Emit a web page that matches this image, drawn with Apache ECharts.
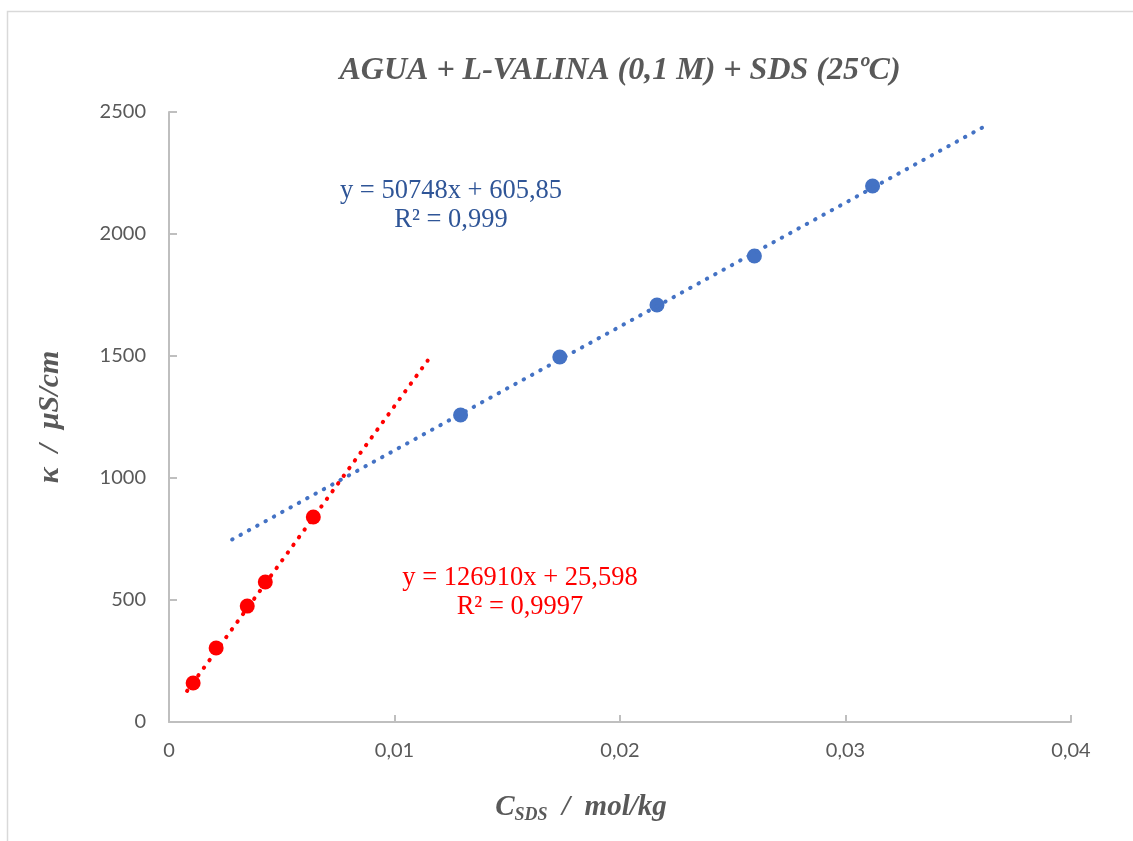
<!DOCTYPE html>
<html>
<head>
<meta charset="utf-8">
<script src="https://cdn.jsdelivr.net/npm/echarts@6/dist/echarts.min.js"></script>
<style>
  html, body { margin: 0; padding: 0; background: #fff; }
  #chart { width: 1133px; height: 841px; }
</style>
</head>
<body>
<div id="chart"></div>
<script>
// premicelar (red) and postmicelar (blue) points
var redX = [0.00107, 0.00209, 0.00347, 0.00427, 0.0064];
var redY = [160, 303, 475, 574, 840];
var blueX = [0.01293, 0.01733, 0.02164, 0.02596, 0.0312];
var blueY = [1258, 1496, 1709, 1910, 2197];

// linear trendlines: slope, intercept, x range
var redFit = { slope: 126910, intercept: 25.598, from: 0.0008, to: 0.01147 };
var blueFit = { slope: 50748, intercept: 605.85, from: 0.0028, to: 0.03631 };

var xTicks = [0, 0.01, 0.02, 0.03, 0.04];
var yTicks = [0, 500, 1000, 1500, 2000, 2500];

function pairs(xs, ys) {
  var out = [];
  for (var i = 0; i < xs.length; i++) out.push([xs[i], ys[i]]);
  return out;
}
function fitLine(f) {
  return [[f.from, f.slope * f.from + f.intercept], [f.to, f.slope * f.to + f.intercept]];
}

var gray = '#595959';
var axisColor = '#bfbfbf';
var serif = '"Liberation Serif", "DejaVu Serif", serif';

var myChart = echarts.init(document.getElementById('chart'));
myChart.setOption({
  animation: false,
  backgroundColor: '#fff',
  title: {
    text: 'AGUA + L-VALINA (0,1 M) + SDS (25ºC)',
    left: 615,
    textAlign: 'center',
    top: 50,
    textStyle: { fontFamily: serif, fontStyle: 'italic', fontWeight: 'bold', fontSize: 32, color: gray }
  },
  grid: { left: 169, right: 62, top: 112, bottom: 119 },
  xAxis: {
    type: 'value',
    min: xTicks[0],
    max: xTicks[xTicks.length - 1],
    interval: 0.01,
    splitLine: { show: false },
    axisLine: { lineStyle: { color: axisColor, width: 2 } },
    axisTick: { inside: true, length: 7, lineStyle: { color: axisColor, width: 2 } },
    axisLabel: {
      margin: 19, color: gray, fontSize: 20, fontFamily: 'Lato, sans-serif',
      formatter: function (v) { return String(v).replace('.', ','); }
    }
  },
  yAxis: {
    type: 'value',
    min: yTicks[0],
    max: yTicks[yTicks.length - 1],
    interval: 500,
    splitLine: { show: false },
    axisLine: { show: true, lineStyle: { color: axisColor, width: 2 } },
    axisTick: { show: true, inside: true, length: 8, lineStyle: { color: axisColor, width: 2 } },
    axisLabel: { margin: 23, color: gray, fontSize: 20, fontFamily: 'Lato, sans-serif',
      formatter: function (v) { return String(v); } },
    name: 'κ  /  μS/cm',
    nameLocation: 'middle',
    nameGap: 104,
    nameTextStyle: { fontFamily: serif, fontStyle: 'italic', fontWeight: 'bold', fontSize: 30, color: gray }
  },
  graphic: [
    {
      type: 'rect', silent: true, z: -1,
      shape: { x: 7.5, y: 11.5, width: 1200, height: 900 },
      style: { fill: 'none', stroke: '#d9d9d9', lineWidth: 1.5 }
    },
    {
      type: 'text', silent: true, x: 581, y: 808,
      style: {
        text: '{c|C}{s|SDS}{c|  /  mol/kg}', align: 'center', verticalAlign: 'middle',
        rich: {
          c: { fontFamily: serif, fontStyle: 'italic', fontWeight: 'bold', fontSize: 29, fill: gray },
          s: { fontFamily: serif, fontStyle: 'italic', fontWeight: 'bold', fontSize: 18, fill: gray, padding: [14, 0, 0, 0] }
        }
      }
    },
    {
      type: 'text', silent: true, x: 451, y: 177,
      style: { text: 'y = 50748x + 605,85\nR² = 0,999', align: 'center',
        fontFamily: serif, fontSize: 26.5, lineHeight: 29, fill: '#2f5597' }
    },
    {
      type: 'text', silent: true, x: 520, y: 564,
      style: { text: 'y = 126910x + 25,598\nR² = 0,9997', align: 'center',
        fontFamily: serif, fontSize: 26.5, lineHeight: 29, fill: '#ff0000' }
    }
  ],
  series: [
    {
      name: 'trend blue', type: 'line', data: fitLine(blueFit), symbol: 'none', z: 3,
      lineStyle: { color: '#4472c4', width: 4, type: [0.5, 9], cap: 'round' }
    },
    {
      name: 'trend red', type: 'line', data: fitLine(redFit), symbol: 'none', z: 3,
      lineStyle: { color: '#ff0000', width: 4, type: [0.5, 9], cap: 'round' }
    },
    {
      name: 'blue', type: 'scatter', data: pairs(blueX, blueY), symbolSize: 15, z: 2,
      itemStyle: { color: '#4472c4', opacity: 1 }
    },
    {
      name: 'red', type: 'scatter', data: pairs(redX, redY), symbolSize: 15, z: 2,
      itemStyle: { color: '#ff0000', opacity: 1 }
    }
  ]
});
window.addEventListener('resize', function () { myChart.resize(); });
</script>
</body>
</html>
